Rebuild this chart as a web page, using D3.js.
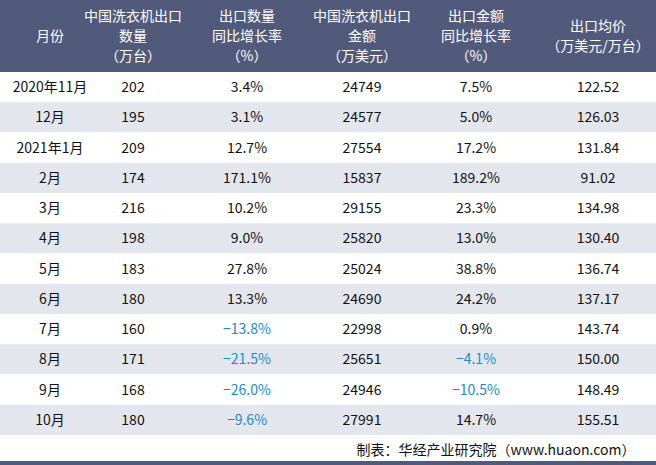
<!DOCTYPE html>
<html><head><meta charset="utf-8">
<script src="https://cdn.jsdelivr.net/npm/d3@7"></script>
<style>body{margin:0;background:#fff}</style>
</head><body><svg id="c" width="656" height="465"></svg>
<script>
const headers = [['月份'], ['中国洗衣机出口', '数量', '（万台）'], ['出口数量', '同比增长率', '（%）'], ['中国洗衣机出口', '金额', '（万美元）'], ['出口金额', '同比增长率', '（%）'], ['出口均价', '（万美元/万台）']]
const months = ['2020年11月', '12月', '2021年1月', '2月', '3月', '4月', '5月', '6月', '7月', '8月', '9月', '10月']
const qty = ['202', '195', '209', '174', '216', '198', '183', '180', '160', '171', '168', '180']
const qtyYoy = ['3.4%', '3.1%', '12.7%', '171.1%', '10.2%', '9.0%', '27.8%', '13.3%', '-13.8%', '-21.5%', '-26.0%', '-9.6%']
const amount = ['24749', '24577', '27554', '15837', '29155', '25820', '25024', '24690', '22998', '25651', '24946', '27991']
const amtYoy = ['7.5%', '5.0%', '17.2%', '189.2%', '23.3%', '13.0%', '38.8%', '24.2%', '0.9%', '-4.1%', '-10.5%', '14.7%']
const price = ['122.52', '126.03', '131.84', '91.02', '134.98', '130.40', '136.74', '137.17', '143.74', '150.00', '148.49', '155.51']

const svg = d3.select('#c')
const font = '"Liberation Mono","DejaVu Sans Mono","Noto Sans CJK SC",monospace'
const colX = [50, 133, 247, 362, 476, 598]
const headH = 72
const y = d3.scaleBand().domain(d3.range(months.length)).range([headH, 435])

svg.append('rect').attr('x', 0).attr('y', 0).attr('width', 656).attr('height', headH).attr('fill', '#525a7c')
headers.forEach((lines, i) => {
    const y0 = headH / 2 - (lines.length - 1) * 10
    lines.forEach((t, j) => {
        svg.append('text').attr('x', colX[i]).attr('y', y0 + j * 20 + 5)
            .attr('text-anchor', 'middle').attr('fill', '#fff')
            .attr('font-family', '"Noto Sans CJK SC",sans-serif').attr('font-size', 14).text(t)
    })
})

const rows = svg.selectAll('.row').data(months.map((m, i) => [m, qty[i], qtyYoy[i], amount[i], amtYoy[i], price[i]]))
    .enter().append('g').attr('transform', (d, i) => `translate(0,${y(i)})`)
rows.append('rect').attr('width', 656).attr('height', y.bandwidth())
    .attr('fill', (d, i) => i % 2 ? '#e4e6ee' : '#fff')
rows.selectAll('text').data(d => d).enter().append('text')
    .attr('x', (d, i) => colX[i]).attr('y', y.bandwidth() / 2 + 5)
    .attr('text-anchor', 'middle').attr('font-size', 14)
    .attr('font-family', '"Noto Sans CJK SC",sans-serif')
    .attr('fill', d => d.startsWith('-') ? '#1a8cc8' : '#111')
    .text(d => d.startsWith('-') ? '\u2212' + d.slice(1) : d)

svg.append('text').attr('x', 496).attr('y', 455).attr('text-anchor', 'middle')
    .attr('font-size', 14).attr('font-family', '"Noto Sans CJK SC",sans-serif').attr('fill', '#111')
    .text('制表：华经产业研究院（www.huaon.com）')
svg.append('rect').attr('x', 0).attr('y', 461).attr('width', 656).attr('height', 4).attr('fill', '#525a7c')
</script></body></html>
